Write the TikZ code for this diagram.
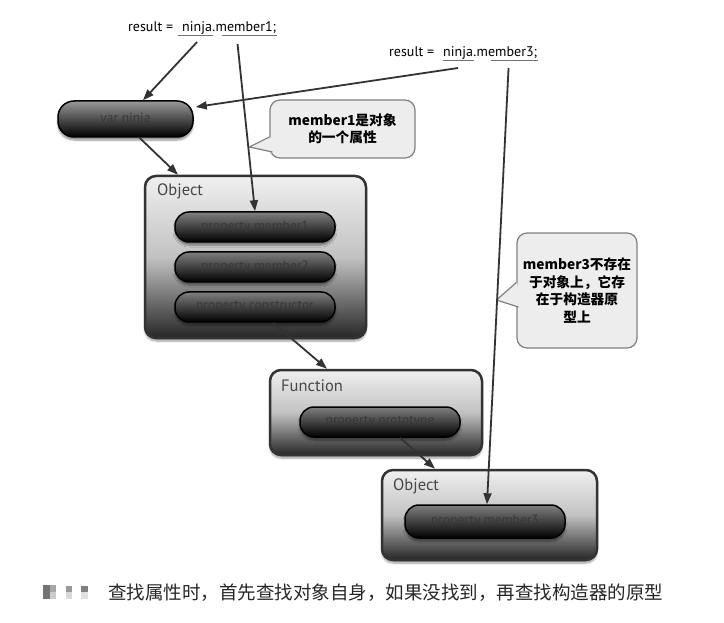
\documentclass[tikz,border=0pt]{standalone}
\usepackage{fontspec}
\setmainfont{PT Sans}
\newfontfamily\cjk{Noto Sans CJK SC}
\usetikzlibrary{arrows.meta,shadows.blur,calc}
\begin{document}
\begin{tikzpicture}[x=1pt,y=-1pt,
  arr/.style={draw=black!80, line width=1.8pt, -{Triangle[length=11pt,width=8pt]}},
  code/.style={font=\fontsize{14}{16}\selectfont, text=black, inner sep=0pt, anchor=base west},
  uline/.style={draw=black!55, line width=0.9pt},
  pill/.style={rounded corners=14pt, draw=black, line width=1.5pt, top color=black!50, bottom color=black,
    minimum width=160pt, minimum height=30pt, font=\fontsize{13.5}{15}\selectfont, text=black!78, inner sep=0pt,
    blur shadow={shadow xshift=0pt, shadow yshift=-3pt, shadow opacity=45, shadow blur steps=6}},
  objbox/.style={rounded corners=11pt, draw=black!80, line width=2.5pt, top color=black!6, bottom color=black!85,
    middle color=black!24, inner sep=0pt,
    blur shadow={shadow xshift=0pt, shadow yshift=-3pt, shadow opacity=40, shadow blur steps=8}},
  lbl/.style={font=\fontsize{16.5}{18}\selectfont, text=black!72, anchor=base west, inner sep=0pt},
  bubble/.style={draw=black!50, fill=black!7, line width=1.2pt, rounded corners=10pt, align=center,
    inner sep=0pt, font=\cjk\bfseries\fontsize{13.7}{17.5}\selectfont},
  bubbleedge/.style={draw=black!50, line width=1.2pt, line join=round},
]
\useasboundingbox (0,0) rectangle (724,623);

% code lines
\node[code] (r1) at (128,32) {result =};
\node[code] (n1) at (182,32) {ninja};
\node[code] (d1) at (n1.base east) {.};
\node[code] (m1) at (d1.base east) {member1;};
\draw[uline] ($(n1.base west)+(-4,3)$) -- ($(n1.base east)+(1,3)$);
\draw[uline] ($(m1.base west)+(6,3)$) -- ($(m1.base east)+(1,3)$);

\node[code] (r2) at (389,57) {result =};
\node[code] (n2) at (443,57) {ninja};
\node[code] (d2) at (n2.base east) {.};
\node[code] (m3) at (d2.base east) {member3;};
\draw[uline] ($(n2.base west)+(0,3)$) -- ($(n2.base east)+(1,3)$);
\draw[uline] ($(m3.base west)+(14,3)$) -- ($(m3.base east)+(1,3)$);

% boxes
\node[objbox, minimum width=221pt, minimum height=162pt] (obj1) at (255.5,257) {};
\node[lbl] (lo1) at (157,196) {Object};
\node[pill] (p1) at (255,227) {property member1};
\node[pill] (p2) at (255,267) {property member2};
\node[pill] (pc) at (255,307) {property constructor};

\node[objbox, minimum width=212pt, minimum height=85pt] (fn) at (376,412.5) {};
\node[lbl] (lf) at (281,391) {Function};
\node[pill] (pp) at (380,422) {property prototype};

\node[objbox, minimum width=215pt, minimum height=90pt] (obj2) at (489.5,515) {};
\node[lbl] (lo2) at (393,490) {Object};
\node[pill, minimum height=33pt] (pm3) at (485,521.5) {property member3};

\node[pill, minimum width=135pt, minimum height=36pt, rounded corners=16pt, top color=black!40] (vn) at (125.5,119) {var ninja};

% bubbles
\node[bubble, minimum width=145pt, minimum height=58pt] (b1) at (342.5,129) {member1是对象\\的一个属性};
\coordinate (t1) at ($(b1.west)+(-20,18)$);
\fill[black!7] ($(b1.west)+(1,8)$) -- (t1) -- ($(b1.west)+(4,24)$) -- cycle;
\draw[bubbleedge] ($(b1.west)+(0,8)$) -- (t1) -- ($(b1.west)+(3,23)$);

\node[bubble, minimum width=120pt, minimum height=115pt] (b2) at (577,290.5) {member3不存在\\于对象上，它存\\在于构造器原\\型上};
\coordinate (t2) at ($(b2.west)+(-20,9.5)$);
\fill[black!7] ($(b2.west)+(1,-8)$) -- (t2) -- ($(b2.west)+(3,17)$) -- cycle;
\draw[bubbleedge] ($(b2.west)+(0,-8)$) -- (t2) -- ($(b2.west)+(2,16.5)$);

% arrows
\draw[arr] ($(n1.base)+(0,10)$) -- ($(vn.north)+(17.5,0)$);
\draw[arr] ($(m1.base west)+(22,12)$) -- (p1.north);
\draw[arr] ($(n2.base)+(0,11)$) -- ($(vn.east)+(2,-12)$);
\draw[arr] ($(vn.south)+(14,0)$) -- ($(obj1.north)+(-77.5,0)$);
\draw[arr] ($(pc.south)+(18,0)$) -- ($(fn.north)+(-49,0)$);
\draw[arr] ($(pp.south)+(20,0)$) -- ($(obj2.north)+(-54.5,0)$);
\draw[arr] ($(m3.base west)+(32,11)$) -- ($(pm3.north)+(2,0)$);

% caption
\fill[black!55] (43,585) rectangle (50,599);
\fill[black!35] (50,585) rectangle (56,592);
\fill[black!20] (50,592) rectangle (56,599);
\fill[black!40] (66,586) rectangle (72,592);
\fill[black!15] (66,592) rectangle (72,599);
\fill[black!50] (81,586) rectangle (88,592);
\fill[black!12] (81,592) rectangle (88,599);
\node[anchor=base west, inner sep=0pt, font=\cjk\fontsize{18.5}{20}\selectfont, text=black!85] (cap) at (108,599)
  {查找属性时，首先查找对象自身，如果没找到，再查找构造器的原型};
\end{tikzpicture}
\end{document}
